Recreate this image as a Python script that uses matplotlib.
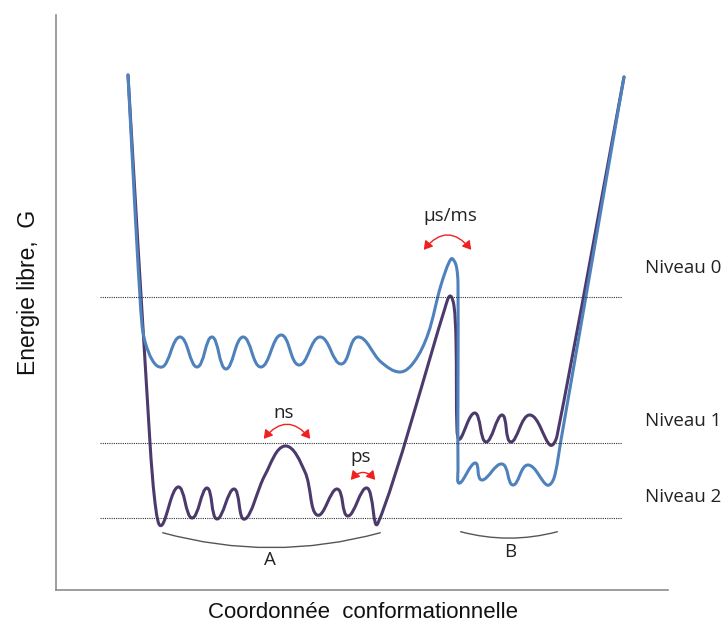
import numpy as np
import matplotlib
matplotlib.use("Agg")
from matplotlib import pyplot as plt
from matplotlib.path import Path
from matplotlib.patches import PathPatch, FancyArrowPatch

# Profile (pixel coordinates, y down)
blue_x = [128, 140, 146, 162, 180, 197, 212, 226, 243, 261, 281, 299, 320, 341, 358,
          381, 400, 414, 428, 441, 451, 456, 458, 458, 460, 475, 482, 502, 513, 528,
          547, 554, 561, 624]
blue_y = [75, 297, 345, 367, 337, 367, 337, 369, 337, 367, 335, 365, 337, 364, 337,
          362, 372, 362, 334, 285, 259, 265, 285, 470, 483, 463, 480, 464, 485, 465,
          485, 478, 440, 77]

purple_x = [128, 150, 156, 162, 178, 192, 207, 217, 234, 245, 265, 285, 305, 317, 337,
            348, 367, 378, 445, 450, 454, 456, 457, 460, 475, 486, 502, 511, 530,
            550, 557, 624]
purple_y = [75, 443, 510, 525, 487, 518, 488, 519, 489, 519, 475, 446, 472, 515, 489,
            516, 488, 523, 308, 296, 306, 340, 430, 439, 413, 442, 415, 442, 415,
            445, 436, 77]

levels_y = [297, 443, 518]
level_names = ["Niveau 0", "Niveau 1", "Niveau 2"]
level_text_y = [268, 421, 497]

# red arrows: (x start, x end, y, label, label x, label y)
arrows = [(422, 473, 252, "µs/ms", 450, 216),
          (262, 312, 441, "ns", 284, 413),
          (349, 377, 482, "ps", 361, 457)]
# brackets under the wells
brackets = [(160, 383, 532, "A", 270, 560),
            (458, 560, 531, "B", 510, 552)]


def smooth_path(xs, ys, k=0.45):
    """Bezier through the points, tangent from the neighbours (no overshoot)."""
    p = np.column_stack([xs, ys]).astype(float)
    n = len(p)
    tang = np.zeros_like(p)
    half = np.zeros(n)
    for i in range(n):
        d = p[min(i + 1, n - 1)] - p[max(i - 1, 0)]
        tang[i] = d / np.hypot(*d)
        half[i] = np.hypot(*d) / 2
    verts = [p[0]]
    codes = [Path.MOVETO]
    for i in range(n - 1):
        seg = np.hypot(*(p[i + 1] - p[i]))
        l0 = min(seg * 0.75, half[i]) * k
        l1 = min(seg * 0.75, half[i + 1]) * k
        verts += [p[i] + tang[i] * l0, p[i + 1] - tang[i + 1] * l1, p[i + 1]]
        codes += [Path.CURVE4] * 3
    return Path(verts, codes)


fig = plt.figure(figsize=(7.26, 6.25), dpi=100)
ax = fig.add_axes([0, 0, 1, 1])
ax.set_xlim(0, 726)
ax.set_ylim(625, 0)
ax.axis("off")

# frame
ax.plot([56, 56], [15, 590], color="#8c8c8c", lw=1.2)
ax.plot([56, 668], [590, 590], color="#8c8c8c", lw=1.2)

for ly, name, ty in zip(levels_y, level_names, level_text_y):
    ax.plot([100, 622], [ly, ly], color="#333333", lw=0.8, ls=(0, (1, 1)))
    ax.text(645, ty, name, fontsize=13.5, family="Open Sans", color="#222222",
            ha="left", va="center")

ax.add_patch(PathPatch(smooth_path(purple_x, purple_y), fill=False,
                       edgecolor="#4b3a6b", lw=2.2, capstyle="round", joinstyle="round"))
ax.add_patch(PathPatch(smooth_path(blue_x, blue_y), fill=False,
                       edgecolor="#4f81bd", lw=2.2, capstyle="round", joinstyle="round"))

for x0, x1, y, label, tx, ty in arrows:
    ax.add_patch(FancyArrowPatch((x0, y), (x1, y), connectionstyle="arc3,rad=-0.65",
                                 arrowstyle="<|-|>,head_length=0.5,head_width=0.3",
                                 mutation_scale=10, color="#f02020", lw=1.0))
    ax.text(tx, ty, label, fontsize=13.5, family="Open Sans", color="#222222",
            ha="center", va="center")

for x0, x1, y, label, tx, ty in brackets:
    ax.add_patch(FancyArrowPatch((x0, y), (x1, y), connectionstyle="arc3,rad=0.14",
                                 arrowstyle="-", color="#555555", lw=1.0))
    ax.text(tx, ty, label, fontsize=13.5, family="Open Sans", color="#222222",
            ha="center", va="center")

ax.text(29, 292, "Energie libre,  G", rotation=90, fontsize=16.5, family="Liberation Sans",
        ha="center", va="center", color="#111111")
ax.text(363, 612, "Coordonnée  conformationnelle", fontsize=16, family="Liberation Sans",
        ha="center", va="center", color="#111111")

fig.savefig("out.png", dpi=100)
